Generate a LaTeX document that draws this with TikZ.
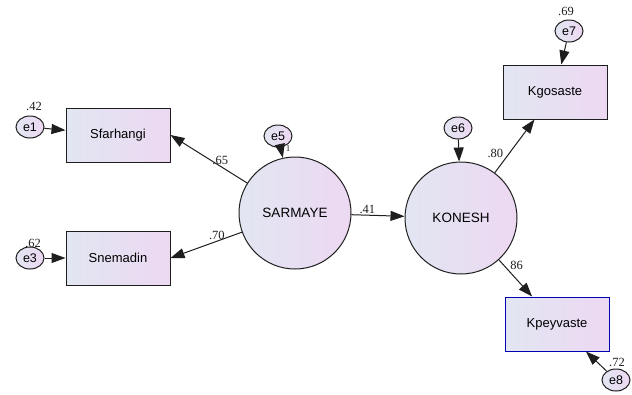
\documentclass[tikz,border=0pt]{standalone}
\usepackage{fontspec}
\setmainfont{Liberation Sans}
\newfontfamily\numfont{Liberation Serif}
\usepackage{tikz}
\usetikzlibrary{arrows.meta}

\definecolor{semleft}{HTML}{E2E6F2}
\definecolor{semright}{HTML}{EDD8F2}
\definecolor{semline}{HTML}{1E1E1E}

\tikzset{
  semfill/.style={left color=semleft, right color=semright, draw=semline, line width=1pt},
  obsbox/.style={semfill, rectangle, minimum width=104pt, minimum height=54pt, inner sep=0pt,
    font=\fontsize{13}{15}\selectfont},
  latent/.style={semfill, circle, minimum size=112pt, inner sep=0pt,
    font=\fontsize{13.5}{15}\selectfont},
  errnode/.style={semfill, ellipse, minimum width=28pt, minimum height=22pt, inner sep=0pt,
    font=\fontsize{12.5}{14}\selectfont},
  path/.style={-{Triangle[length=14pt,width=10pt]}, line width=1pt, semline},
  coef/.style={font=\numfont\fontsize{12.5}{14}\selectfont, text=semline, inner sep=1pt}
}
\usetikzlibrary{shapes.geometric}

\begin{document}
\begin{tikzpicture}[x=1pt, y=-1pt]
    \useasboundingbox (0,0) rectangle (632,394);

    % Latent variables
    \node[latent] (sarmaye) at (295,213) {SARMAYE};
    \node[latent] (konesh)  at (461,218) {KONESH};

    % Observed indicators
    \node[obsbox] (sfarhangi) at (118,135) {Sfarhangi};
    \node[obsbox] (snemadin)  at (118,258) {Snemadin};
    \node[obsbox] (kgosaste)  at (555,92)  {Kgosaste};
    \node[obsbox, draw=blue!70!black] (kpeyvaste) at (557,324) {Kpeyvaste};

    % Error terms
    \node[errnode] (e1) at (30,127) {e1};
    \node[errnode] (e3) at (30,258) {e3};
    \node[errnode] (e5) at (278,136) {e5};
    \node[errnode] (e6) at (458,128) {e6};
    \node[errnode] (e7) at (569,31)  {e7};
    \node[errnode] (e8) at (616,380) {e8};

    % Structural and measurement paths
    \draw[path] (sarmaye) -- (sfarhangi.east) node[coef, pos=0.35, above] {.65};
    \draw[path] (sarmaye) -- (snemadin.east)  node[coef, pos=0.35, above] {.70};
    \draw[path] (sarmaye) -- (konesh)         node[coef, pos=0.3, above]  {.41};
    \draw[path] (konesh) -- (kgosaste)        node[coef, pos=0.25, above left] {.80};
    \draw[path] (konesh) -- (kpeyvaste)       node[coef, pos=0.3, above right] {86};

    % Error paths
    \foreach \err/\obs in {e1/sfarhangi, e3/snemadin, e5/sarmaye, e6/konesh, e7/kgosaste, e8/kpeyvaste}
      \draw[path] (\err) -- (\obs);

    % Squared multiple correlations
    \node[coef] (r1) at (34,106)  {.42};
    \node[coef] (r3) at (33,243)  {.62};
    \node[coef] (r5) at (288,149) {\fontsize{9}{10}\selectfont 1};
    \node[coef] (r7) at (566,11)  {.69};
    \node[coef] (r8) at (617,362) {.72};
\end{tikzpicture}
\end{document}
